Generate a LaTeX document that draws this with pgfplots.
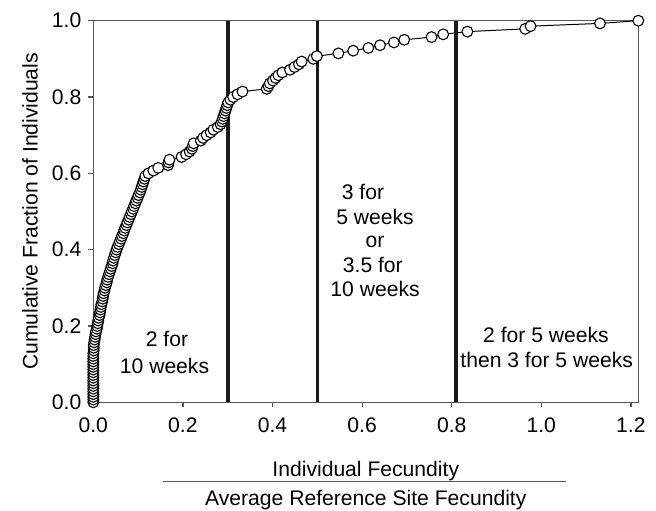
\documentclass[border=0pt]{standalone}
\usepackage{fontspec}
\setmainfont{Liberation Sans}
\usepackage{pgfplots}
\pgfplotsset{compat=1.18}
\definecolor{axgray}{HTML}{555555}
\definecolor{barblk}{HTML}{1A1A1A}

\begin{document}
\begin{tikzpicture}[font=\fontsize{10.6}{12.5}\selectfont]
\path[use as bounding box] (-46.65bp,-54.35bp) rectangle (281.35bp,201.15bp);
\begin{axis}[
  at={(0,0)}, anchor=south west,
  scale only axis,
  width=272.5bp, height=190.8bp,
  xmin=0, xmax=1.2165, ymin=0, ymax=1,
  clip=false,
  xtick={0,0.2,0.4,0.6,0.8,1.0,1.2},
  xticklabels={0.0,0.2,0.4,0.6,0.8,1.0,1.2},
  ytick={0,0.2,0.4,0.6,0.8,1.0},
  yticklabels={0.0,0.2,0.4,0.6,0.8,1.0},
  xticklabel style={yshift=-1.5bp},
  tick pos=left,
  tick align=outside,
  major tick length=2.5bp,
  axis line style={axgray, line width=0.6bp},
  tick style={axgray, line width=0.6bp},
]
% cumulative distribution, one point per individual
\addplot[black, line width=0.5bp, mark=*, mark size=2.7bp,
  mark options={fill=white, draw=black, line width=0.55bp}] table {
x y
0 0.0000
0 0.0071
0 0.0143
0 0.0214
0 0.0286
0 0.0357
0 0.0429
0 0.0500
0 0.0571
0 0.0643
0 0.0714
0 0.0786
0 0.0857
0 0.0929
0 0.1000
0 0.1071
0 0.1143
0 0.1214
0 0.1286
0.001 0.1357
0.001 0.1429
0.001 0.1500
0.002 0.1571
0.003 0.1643
0.004 0.1714
0.005 0.1786
0.006 0.1857
0.008 0.1929
0.009 0.2000
0.010 0.2071
0.011 0.2143
0.012 0.2214
0.014 0.2286
0.015 0.2357
0.016 0.2429
0.017 0.2500
0.018 0.2571
0.020 0.2643
0.021 0.2714
0.022 0.2786
0.023 0.2857
0.025 0.2929
0.026 0.3000
0.028 0.3071
0.030 0.3143
0.031 0.3214
0.033 0.3286
0.035 0.3357
0.037 0.3429
0.039 0.3500
0.041 0.3571
0.043 0.3643
0.044 0.3714
0.046 0.3786
0.048 0.3857
0.050 0.3929
0.052 0.4000
0.054 0.4071
0.057 0.4143
0.059 0.4214
0.062 0.4286
0.064 0.4357
0.067 0.4429
0.069 0.4500
0.071 0.4571
0.074 0.4643
0.076 0.4714
0.079 0.4786
0.081 0.4857
0.084 0.4929
0.086 0.5000
0.089 0.5071
0.091 0.5143
0.094 0.5214
0.096 0.5286
0.099 0.5357
0.101 0.5429
0.104 0.5500
0.106 0.5571
0.108 0.5643
0.110 0.5714
0.112 0.5786
0.114 0.5857
0.116 0.5929
0.123 0.6000
0.134 0.6071
0.145 0.6143
0.167 0.6214
0.168 0.6286
0.170 0.6357
0.197 0.6429
0.207 0.6500
0.215 0.6571
0.220 0.6643
0.222 0.6714
0.224 0.6786
0.240 0.6857
0.245 0.6929
0.253 0.7000
0.262 0.7071
0.268 0.7143
0.278 0.7214
0.284 0.7286
0.287 0.7357
0.289 0.7429
0.291 0.7500
0.293 0.7571
0.295 0.7643
0.297 0.7714
0.299 0.7786
0.301 0.7857
0.306 0.7929
0.312 0.8000
0.322 0.8071
0.333 0.8143
0.387 0.8214
0.391 0.8286
0.394 0.8357
0.401 0.8429
0.407 0.8500
0.413 0.8571
0.422 0.8643
0.439 0.8714
0.449 0.8786
0.459 0.8857
0.465 0.8929
0.491 0.9000
0.499 0.9071
0.547 0.9143
0.580 0.9214
0.614 0.9286
0.640 0.9357
0.671 0.9429
0.694 0.9500
0.755 0.9571
0.781 0.9643
0.835 0.9714
0.964 0.9786
0.976 0.9857
1.131 0.9929
1.2165 1.0000
};
% thresholds
\addplot[barblk, line width=1.8bp] coordinates {(0.30,0) (0.30,1)};
\addplot[barblk, line width=1.8bp] coordinates {(0.50,0) (0.50,1)};
\addplot[barblk, line width=1.8bp] coordinates {(0.809,0) (0.809,1)};

\node at (axis cs:0.1645,0.166) {2 for};
\node at (axis cs:0.159,0.095) {10 weeks};
\node at (axis cs:0.602,0.552) {3 for};
\node at (axis cs:0.629,0.485) {5 weeks};
\node at (axis cs:0.629,0.421) {or};
\node at (axis cs:0.624,0.360) {3.5 for};
\node at (axis cs:0.629,0.297) {10 weeks};
\node at (axis cs:1.0105,0.176) {2 for 5 weeks};
\node at (axis cs:1.012,0.111) {then 3 for 5 weeks};
\end{axis}
\node[rotate=90] at (-31.65bp,95.4bp) {Cumulative Fraction of Individuals};
\node[anchor=base] at (136.25bp,-36.85bp) {Individual Fecundity};
\draw[axgray, line width=0.6bp] (34.85bp,-39.7bp) -- (236.35bp,-39.7bp);
\node[anchor=base] at (136.25bp,-51.35bp) {Average Reference Site Fecundity};
\end{tikzpicture}
\end{document}
